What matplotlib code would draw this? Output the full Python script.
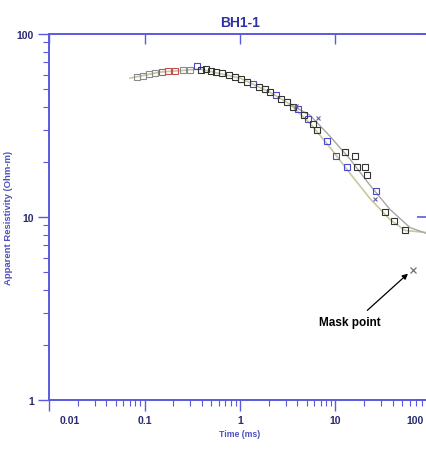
import matplotlib
matplotlib.use('Agg')
import matplotlib.pyplot as plt
import matplotlib.transforms as mtransforms
import numpy as np

plt.rcParams['font.family'] = ['Liberation Sans', 'DejaVu Sans']

# measured apparent resistivity (time in ms, rho in Ohm-m)
time_ms = [0.083, 0.097, 0.112, 0.129, 0.153, 0.176, 0.209, 0.253, 0.299, 0.355,
           0.391, 0.441, 0.497, 0.561, 0.649, 0.767, 0.886, 1.02, 1.18, 1.37,
           1.58, 1.83, 2.06, 2.38, 2.69, 3.10, 3.59, 4.05, 4.68, 5.15,
           5.81, 6.40, 8.15, 10.1, 12.6, 13.2, 16.0, 16.8, 20.4, 21.4,
           26.6, 33.0, 41.0, 53.4]
rho_meas = [58.1, 58.9, 60.4, 61.1, 61.9, 62.7, 62.7, 63.5, 63.5, 66.8,
            63.5, 64.3, 62.7, 61.9, 61.1, 59.6, 58.1, 56.6, 54.6, 53.2,
            51.3, 50.0, 48.1, 46.3, 44.1, 42.4, 39.8, 38.8, 36.0, 34.2,
            32.1, 29.8, 25.9, 21.5, 22.6, 18.7, 21.5, 18.7, 18.7, 16.9,
            13.8, 10.6, 9.45, 8.44]
point_group = ['g', 'g', 'g', 'g', 'r', 'r', 'r', 'g', 'g', 'b',
               'k', 'k', 'k', 'k', 'k', 'k', 'k', 'k', 'k', 'b',
               'k', 'k', 'k', 'b', 'k', 'k', 'k', 'b', 'k', 'b',
               'k', 'k', 'b', 'b', 'k', 'b', 'k', 'k', 'k', 'k',
               'b', 'k', 'k', 'k']

# cross markers (second data set)
time_x = [3.9, 6.56, 25.9]
rho_x = [40.5, 34.7, 12.6]

# model curves
time_model_a = [0.0705, 0.145, 0.381, 1.0, 2.06, 3.34, 5.41, 8.76, 14.2, 23.0, 37.2, 53.4, 90.8]
rho_model_a = [57.4, 61.9, 64.3, 57.4, 48.1, 41.3, 32.5, 24.0, 17.3, 12.6, 9.69, 8.44, 8.22]
time_model_b = [3.34, 5.41, 8.76, 14.2, 23.0, 37.2, 60.3, 90.8]
rho_model_b = [41.3, 36.0, 27.6, 20.7, 14.9, 11.0, 8.75, 8.12]

# masked point
mask_t = 64.8
mask_rho = 5.15

xticks = [0.01, 0.1, 1, 10, 100]
xtick_labels = ['0.01', '0.1', '1', '10', '100']
yticks = [1, 10, 100]
ytick_labels = ['1', '10', '100']

axis_col = '#5a5ae0'
text_col = '#2a2a70'
group_cols = {'g': '#8a8a8a', 'r': '#c05050', 'b': '#4848c8', 'k': '#333333'}

fig = plt.figure(figsize=(4.27, 4.52), dpi=100)
ax = fig.add_axes([49 / 427, 51 / 452, 382 / 427, 366 / 452])

ax.plot(time_model_a, rho_model_a, color='#c8c8a0', lw=1.2, zorder=1)
ax.plot(time_model_b, rho_model_b, color='#a8a8a0', lw=1.0, zorder=1)

for g in ['g', 'r', 'b', 'k']:
    tt = [t for t, c in zip(time_ms, point_group) if c == g]
    rr = [r for r, c in zip(rho_meas, point_group) if c == g]
    ax.plot(tt, rr, 's', ms=4.2, mfc='none', mec=group_cols[g], mew=0.8, zorder=3)

ax.plot(time_x, rho_x, 'x', ms=3.5, color='#6060a0', mew=0.8, zorder=3)
ax.plot([mask_t], [mask_rho], 'x', ms=3.8, color='#707070', mew=0.9, zorder=3)

ax.set_xscale('log')
ax.set_yscale('log')
ax.set_xlim(0.01, 100)
ax.set_ylim(1, 100)

ax.set_xticks(xticks)
ax.set_xticklabels(xtick_labels)
ax.set_yticks(yticks)
ax.set_yticklabels(ytick_labels)

for s in ax.spines.values():
    s.set_color(axis_col)
    s.set_linewidth(1.4)

ax.tick_params(axis='both', which='major', direction='out', length=8, width=1.0,
               color=axis_col, labelcolor=text_col, labelsize=7.5, pad=3)
ax.tick_params(axis='both', which='minor', direction='out', length=4, width=0.8,
               color=axis_col)
ax.tick_params(axis='both', which='minor', labelbottom=False, labelleft=False)
for lab in ax.get_xticklabels() + ax.get_yticklabels():
    lab.set_fontweight('bold')

# first and last x labels are pulled inward
xl = ax.get_xticklabels()
xl[0].set_transform(xl[0].get_transform() + mtransforms.ScaledTranslation(21 / 100, 0, fig.dpi_scale_trans))
xl[-1].set_transform(xl[-1].get_transform() + mtransforms.ScaledTranslation(-16 / 100, 0, fig.dpi_scale_trans))

# inward major ticks on top and right
top = ax.secondary_xaxis('top')
top.set_xticks(xticks)
top.tick_params(which='major', direction='in', length=7, width=1.0, color=axis_col, labeltop=False)
top.tick_params(which='minor', length=0)
top.spines['top'].set_visible(False)
right = ax.secondary_yaxis('right')
right.set_yticks(yticks)
right.tick_params(which='major', direction='in', length=10, width=1.2, color=axis_col, labelright=False)
right.tick_params(which='minor', length=0)
right.spines['right'].set_visible(False)

ax.set_title('BH1-1', color='#3030a8', fontsize=10, fontweight='bold', pad=6)
ax.set_xlabel('Time (ms)', color='#5050c0', fontsize=6.3, fontweight='bold', labelpad=3)
ax.set_ylabel('Apparent Resistivity (Ohm-m)', color='#5050c0', fontsize=6.8, fontweight='bold')
ax.yaxis.set_label_coords(-36 / 382, 0.5)

ax.annotate('Mask point', xy=(60.3, 5.02), xytext=(14.2, 2.67),
            ha='center', va='center', fontsize=8.5, fontweight='bold', color='black',
            arrowprops=dict(arrowstyle='-|>', color='black', lw=0.9,
                            relpos=(0.68, 1.0), shrinkA=3, shrinkB=2,
                            mutation_scale=8))

fig.savefig('out.png', dpi=100)
